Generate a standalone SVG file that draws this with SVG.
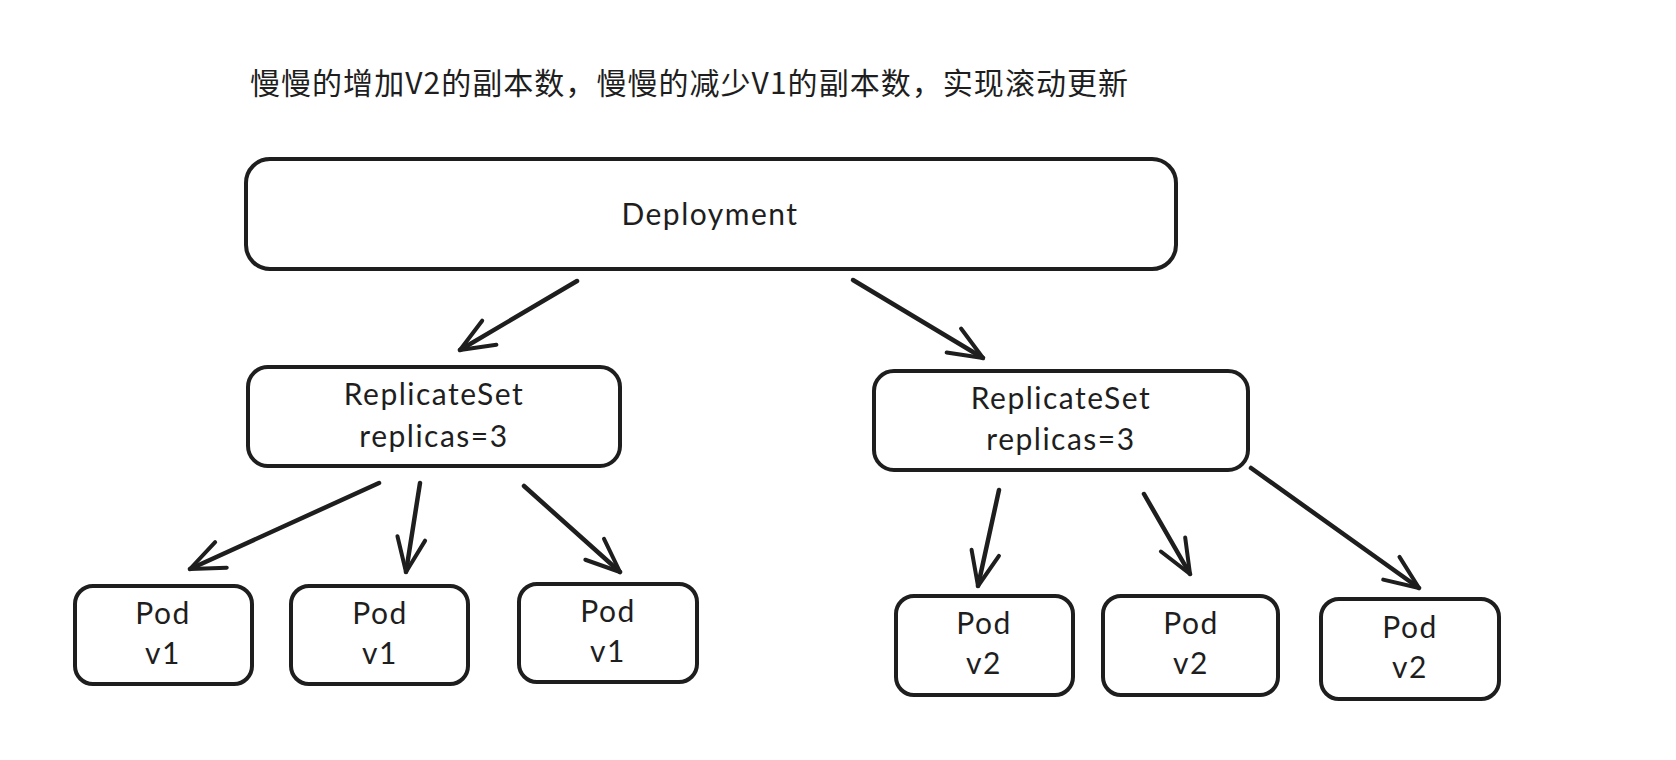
<svg xmlns="http://www.w3.org/2000/svg" width="1676" height="760" viewBox="0 0 1676 760">
<style>
.box{fill:#fff;stroke:#1e1e1e;stroke-width:4}
.lbl{font-family:Lato,"Noto Sans",sans-serif;font-size:30px;letter-spacing:1.5px;fill:#1e1e1e;text-anchor:middle}
.title{font-family:"Noto Sans CJK SC","Noto Sans",sans-serif;font-size:30px;font-weight:400;fill:#1e1e1e}
.conn line{stroke:#1e1e1e;stroke-width:4.5;stroke-linecap:round}
</style>
<defs>
<marker id="ah" markerUnits="userSpaceOnUse" markerWidth="44" markerHeight="44" viewBox="-38 -22 44 44" refX="0" refY="0" orient="auto">
<path d="M-34,-14 L0,0 L-34,14" fill="none" stroke="#1e1e1e" stroke-width="4" stroke-linecap="round" stroke-linejoin="round"/>
</marker>
</defs>
<rect width="1676" height="760" fill="#fff"/>
<text class="title" x="250" y="94" textLength="878" lengthAdjust="spacing">慢慢的增加V2的副本数，慢慢的减少V1的副本数，实现滚动更新</text>
<g id="deployment"><rect class="box" x="246" y="159" width="930" height="110" rx="24"/><text class="lbl" x="710" y="225">Deployment</text></g>
<g id="rs1"><rect class="box" x="248" y="367" width="372" height="99" rx="20"/><text class="lbl" x="434" y="405">ReplicateSet</text><text class="lbl" x="434" y="447">replicas=3</text></g>
<g id="rs2"><rect class="box" x="874" y="371" width="374" height="99" rx="20"/><text class="lbl" x="1061" y="409">ReplicateSet</text><text class="lbl" x="1061" y="450">replicas=3</text></g>
<g id="pod1"><rect class="box" x="75" y="586" width="177" height="98" rx="18"/><text class="lbl" x="163" y="624">Pod</text><text class="lbl" x="163" y="664">v1</text></g>
<g id="pod2"><rect class="box" x="291" y="586" width="177" height="98" rx="18"/><text class="lbl" x="380" y="624">Pod</text><text class="lbl" x="380" y="664">v1</text></g>
<g id="pod3"><rect class="box" x="519" y="584" width="178" height="98" rx="18"/><text class="lbl" x="608" y="622">Pod</text><text class="lbl" x="608" y="662">v1</text></g>
<g id="pod4"><rect class="box" x="896" y="596" width="177" height="99" rx="18"/><text class="lbl" x="984" y="634">Pod</text><text class="lbl" x="984" y="674">v2</text></g>
<g id="pod5"><rect class="box" x="1103" y="596" width="175" height="99" rx="18"/><text class="lbl" x="1191" y="634">Pod</text><text class="lbl" x="1191" y="674">v2</text></g>
<g id="pod6"><rect class="box" x="1321" y="599" width="178" height="100" rx="18"/><text class="lbl" x="1410" y="638">Pod</text><text class="lbl" x="1410" y="678">v2</text></g>
<g class="conn" id="connectors">
<line x1="577" y1="281" x2="460" y2="350" marker-end="url(#ah)"/>
<line x1="853" y1="280" x2="983" y2="358" marker-end="url(#ah)"/>
<line x1="379" y1="483" x2="190" y2="569" marker-end="url(#ah)"/>
<line x1="420" y1="483" x2="406" y2="572" marker-end="url(#ah)"/>
<line x1="524" y1="486" x2="620" y2="572" marker-end="url(#ah)"/>
<line x1="999" y1="490" x2="978" y2="586" marker-end="url(#ah)"/>
<line x1="1144" y1="494" x2="1190" y2="574" marker-end="url(#ah)"/>
<line x1="1251" y1="468" x2="1419" y2="588" marker-end="url(#ah)"/>
</g>
</svg>
